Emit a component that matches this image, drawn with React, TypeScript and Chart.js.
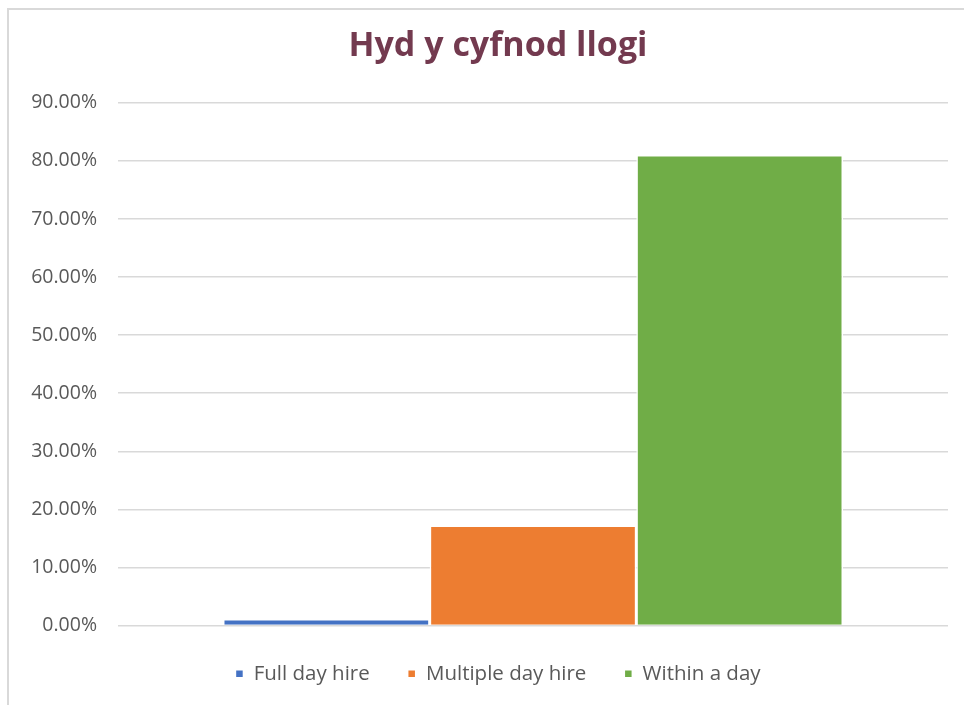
import React, { useEffect, useRef } from "react";
import { Chart, registerables } from "chart.js";

Chart.register(...registerables);

const categories = [""];
const seriesNames = ["Full day hire", "Multiple day hire", "Within a day"];
const fullDayHire = [1.1];
const multipleDayHire = [17.2];
const withinADay = [81.0];
const seriesColors = ["#4472c4", "#ed7d31", "#70ad47"];
const yTicksMax = 90;
const yTicksStep = 10;

const unclipYLabels = {
  id: "unclipYLabels",
  afterLayout(chart: any) {
    const y = chart.scales.y;
    if (y) y.left = 0;
  },
};

export default function App() {
  const ref = useRef<HTMLCanvasElement | null>(null);
  useEffect(() => {
    if (!ref.current) return;
    const values = [fullDayHire, multipleDayHire, withinADay];
    const chart = new Chart(ref.current, {
      type: "bar",
      data: {
        labels: categories,
        datasets: seriesNames.map((name, i) => ({
          label: name,
          data: values[i],
          backgroundColor: seriesColors[i],
          borderColor: "#ffffff",
          borderWidth: 1.5,
          barPercentage: 1,
          categoryPercentage: 0.747,
        })),
      },
      plugins: [unclipYLabels],
      options: {
        animation: false,
        responsive: false,
        maintainAspectRatio: false,
        layout: { padding: { left: 39, right: 40, top: 10, bottom: 11 } },
        plugins: {
          title: {
            display: true,
            text: "Hyd y cyfnod llogi",
            color: "#733a4f",
            font: { family: "Open Sans", size: 34, weight: "bold" },
            padding: { top: 6, bottom: 36 },
          },
          legend: {
            position: "bottom",
            labels: {
              boxWidth: 8,
              boxHeight: 8,
              padding: 38,
              color: "#595959",
              font: { family: "Open Sans", size: 20.5 },
            },
          },
          tooltip: { enabled: false },
        },
        scales: {
          x: {
            display: true,
            grid: { display: false },
            border: { display: false },
            ticks: { display: false },
            afterFit: (scale: any) => {
              scale.height = 0;
            },
          },
          y: {
            min: 0,
            max: yTicksMax,
            ticks: {
              stepSize: yTicksStep,
              color: "#595959",
              font: { family: "Open Sans", size: 19.5 },
              padding: 21,
              callback: (v: any) => Number(v).toFixed(2) + "%",
            },
            grid: { color: "#d9d9d9", lineWidth: 1.5, drawTicks: false },
            border: { display: false },
            afterFit: (scale: any) => {
              scale.width = 70;
            },
          },
        },
      },
    });
    return () => chart.destroy();
  }, []);
  return (
    <div style={{ position: "fixed", left: 0, top: 0, width: 964, height: 705, overflow: "hidden", background: "#fff" }}>
      <div
        style={{
          position: "absolute",
          left: 7,
          top: 8,
          width: 981,
          height: 710,
          borderLeft: "2px solid #d9d9d9",
          borderTop: "2px solid #d9d9d9",
        }}
      >
        <canvas ref={ref} width={979} height={695} style={{ display: "block" }} />
      </div>
    </div>
  );
}
